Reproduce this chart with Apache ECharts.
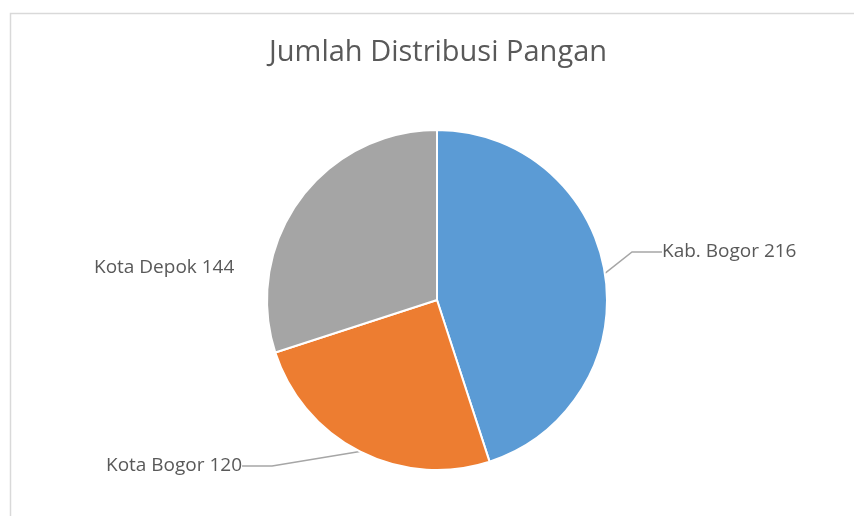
<!DOCTYPE html>
<html>
<head>
<meta charset="utf-8">
<script src="https://cdn.jsdelivr.net/npm/echarts@6/dist/echarts.min.js"></script>
<style>
  html, body { margin: 0; padding: 0; background: #fff; }
  #chart { width: 854px; height: 516px; }
</style>
</head>
<body>
<div id="chart"></div>
<script>
// data
const regions = ['Kab. Bogor', 'Kota Bogor', 'Kota Depok']
const amounts = [216, 120, 144]
const colors = ['#5B9BD5', '#ED7D31', '#A5A5A5']

// where Excel put the data labels (left edge, middle of text)
const labelSpots = [
  { x: 662, y: 252, line: true },
  { x: 106, y: 466, line: true },
  { x: 94, y: 268, line: false }
]

const chart = echarts.init(document.getElementById('chart'))

chart.setOption({
  animation: false,
  backgroundColor: '#fff',
  textStyle: { fontFamily: 'Open Sans' },
  graphic: [{
    type: 'rect',
    shape: { x: 10.5, y: 13.5, width: 900, height: 600 },
    style: { fill: 'none', stroke: '#d9d9d9', lineWidth: 1.5 },
    silent: true
  }],
  title: {
    text: 'Jumlah Distribusi Pangan',
    left: 433,
    top: 33,
    textAlign: 'center',
    textStyle: { fontSize: 29, fontWeight: 'normal', color: '#595959', fontFamily: 'Open Sans' }
  },
  series: [{
    type: 'pie',
    center: [437, 300],
    radius: 170,
    startAngle: 90,
    clockwise: true,
    itemStyle: { borderColor: '#fff', borderWidth: 2 },
    label: {
      show: true,
      formatter: '{b} {c}',
      fontSize: 19,
      color: '#595959',
      fontFamily: 'Open Sans'
    },
    labelLine: {
      show: true,
      lineStyle: { color: '#a6a6a6', width: 1.5 }
    },
    labelLayout: function (p) {
      const s = labelSpots[p.dataIndex]
      return { x: s.x, y: s.y, align: 'left', verticalAlign: 'middle' }
    },
    data: regions.map((name, i) => ({
      name,
      value: amounts[i],
      itemStyle: { color: colors[i] },
      labelLine: { show: labelSpots[i].line }
    }))
  }]
})
</script>
</body>
</html>
